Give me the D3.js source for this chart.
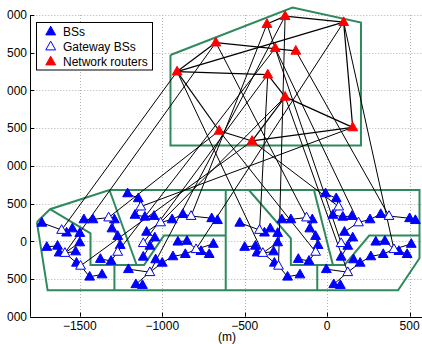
<!DOCTYPE html>
<html>
<head>
<meta charset="utf-8">
<script src="https://cdn.jsdelivr.net/npm/d3@7"></script>
<style>
  body { margin: 0; background: #fff; }
  text { font-family: "Liberation Sans", Arial, Helvetica, sans-serif; }
</style>
</head>
<body>
<div id="chart"></div>
<script>
// all positions in metres
const routers = [
  [-910, 2250], [-675, 2635], [-365, 2880], [-255, 2985], [100, 2905], [-315, 2560],
  [-190, 2525], [-360, 2210], [-255, 1915], [155, 1510], [-655, 1465], [-455, 1330]
];

// west cluster
const bsWest = [
  [-1730, 245], [-1580, 115], [-1545, 170], [-1500, 110], [-1700, -75], [-1635, -60],
  [-1625, -150], [-1525, -135], [-1500, -15], [-1520, -285], [-1440, -470], [-1365, -440],
  [-1475, 290], [-1420, 290], [-1290, 290], [-1305, 170], [-1270, 70], [-1255, -50],
  [-1375, -235], [-1310, -260], [-1210, 635], [-1145, 570], [-1165, 350], [-1105, 325],
  [-1050, 335], [-940, 290], [-875, 360], [-700, 305], [-665, 280], [-1095, 125],
  [-1045, 50], [-1075, -60], [-1115, -205], [-1040, -240], [-1000, -285], [-1205, -370],
  [-1160, -570], [-1120, -580], [-905, -5], [-850, 5], [-765, -130], [-715, -170],
  [-690, -35], [-860, -170], [-935, -200]
];
const gwWest = [
  [-1610, 150], [-1590, -155], [-1495, -325], [-1325, 315], [-1270, -140], [-1130, 460],
  [-1010, 250], [-825, 335], [-1115, -25], [-1075, -410], [-795, -105]
];

// east cluster
const bsEast = [
  [-530, 245], [-380, 115], [-345, 170], [-300, 110], [-500, -75], [-435, -60],
  [-425, -150], [-325, -135], [-300, -15], [-320, -285], [-240, -470], [-165, -440],
  [-275, 290], [-220, 290], [-90, 290], [-105, 170], [-70, 70], [-55, -50],
  [-175, -235], [-110, -260], [-10, 635], [55, 570], [35, 350], [95, 325],
  [150, 335], [260, 290], [325, 360], [500, 305], [535, 280], [105, 125],
  [155, 50], [125, -60], [85, -205], [160, -240], [200, -285], [-5, -370],
  [40, -570], [80, -580], [295, -5], [350, 5], [435, -130], [485, -170],
  [510, -35], [340, -170], [265, -200]
];
const gwEast = [
  [-410, 150], [-390, -155], [-295, -325], [-125, 315], [-70, -140], [70, 460],
  [190, 250], [375, 335], [85, -25], [125, -410], [405, -105]
];

// BS tree inside a cluster (same in both clusters); b = BS, g = gateway
const treeLinks = [
  ["b0", "g0"], ["g0", "b1"], ["b1", "b2"], ["b2", "b3"], ["b3", "b8"], ["b8", "g1"],
  ["b4", "b5"], ["b5", "b6"], ["b6", "g1"], ["g1", "b7"], ["g1", "b9"], ["b9", "g2"],
  ["g2", "b10"], ["b10", "b11"],
  ["b12", "b13"], ["b13", "g3"], ["g3", "b14"], ["b14", "b15"], ["b15", "b16"], ["b16", "b17"],
  ["b17", "g4"], ["b18", "b19"], ["b19", "g4"],
  ["b20", "b21"], ["b21", "g5"], ["g5", "b22"], ["b22", "b23"], ["b23", "b24"], ["b24", "g6"],
  ["g6", "b25"], ["b25", "b26"], ["b26", "g7"], ["g7", "b27"], ["b27", "b28"],
  ["g6", "b29"], ["b29", "b30"], ["b30", "b31"], ["g8", "b31"], ["b31", "b32"],
  ["b33", "b34"], ["b34", "g9"], ["b35", "g9"], ["g9", "b36"], ["b36", "b37"],
  ["b38", "b39"], ["b39", "g10"], ["g10", "b40"], ["b40", "b41"], ["b42", "g10"],
  ["b34", "b44"], ["b44", "b43"], ["b43", "g10"]
];

const routerLinks = [
  [0, 1], [0, 7], [0, 4], [0, 10], [1, 6], [3, 4], [2, 3], [10, 11], [11, 9],
  [8, 9], [4, 9], [7, 8], [8, 11]
];

// router serving each gateway
const uplinkWest = [0, 1, 11, 10, 5, 9, 8, 2, 7, 3, 4];
const uplinkEast = [7, 0, 3, 1, 10, 11, 5, 6, 2, 8, 4];

const routerArea = [[-950, 2470], [-210, 3100], [205, 2900], [205, 1270], [-950, 1270], [-950, 2470]];
const cellBorders = [
  [[-1760, 255], [-1680, 425], [-1320, 680], [560, 680], [560, -225], [430, -650], [-1695, -650], [-1760, 255]],
  [[-1680, 425], [-1435, 105], [-1435, -315], [-1110, -315], [-990, 75], [-615, 75]],
  [[-1320, 680], [-1155, -315]],
  [[-1290, -315], [-1290, -650]],
  [[-615, 680], [-615, -650]],
  [[-475, 680], [-220, 40], [-220, -315], [105, -315], [255, 75], [560, 75]],
  [[-80, 680], [35, -315]],
  [[-60, -315], [-60, -650]]
];

const xTicks = [-1500, -1000, -500, 0, 500];
const yTicks = [-1000, -500, 0, 500, 1000, 1500, 2000, 2500, 3000];
const legendItems = ["BSs", "Gateway BSs", "Network routers"];

const W = 422, H = 344;
const GREEN = "#2e8a5c";
const BLUE = "#0000ff";
const RED = "#ff0000";
const TRI = "M0,-5.3L4.9,3.4L-4.9,3.4Z";

const x = d3.scaleLinear().domain([-1800, 600]).range([30.3, 426.1]);
const y = d3.scaleLinear().domain([-1000, 3000]).range([316.7, 15]);
const line = d3.line().x(d => x(d[0])).y(d => y(d[1]));

const svg = d3.select("#chart").append("svg")
  .attr("width", W).attr("height", H)
  .style("display", "block");

// the figure is cropped on the left, so the leading digits of the y labels are cut
svg.append("defs").append("clipPath").attr("id", "labelClip")
  .append("rect").attr("x", 7).attr("y", 0).attr("width", W).attr("height", H);

// grid
const grid = svg.append("g").attr("stroke", "#b4b4b4").attr("stroke-width", 1).attr("stroke-dasharray", "1,2");
grid.selectAll("line.gx").data(xTicks).enter().append("line")
  .attr("x1", d => Math.round(x(d)) + 0.5).attr("x2", d => Math.round(x(d)) + 0.5)
  .attr("y1", y(3000)).attr("y2", y(-1000));
grid.selectAll("line.gy").data(yTicks).enter().append("line")
  .attr("y1", d => Math.round(y(d)) + 0.5).attr("y2", d => Math.round(y(d)) + 0.5)
  .attr("x1", x(-1800)).attr("x2", W);

// axes
const ax = svg.append("g").attr("stroke", "#000").attr("stroke-width", 1);
ax.append("line").attr("x1", Math.round(x(-1800)) + 0.5).attr("x2", Math.round(x(-1800)) + 0.5)
  .attr("y1", y(3000)).attr("y2", y(-1000));
ax.append("line").attr("x1", x(-1800)).attr("x2", W)
  .attr("y1", Math.round(y(-1000)) + 0.5).attr("y2", Math.round(y(-1000)) + 0.5);
ax.selectAll("line.tx").data(xTicks).enter().append("line")
  .attr("x1", d => Math.round(x(d)) + 0.5).attr("x2", d => Math.round(x(d)) + 0.5)
  .attr("y1", y(-1000)).attr("y2", y(-1000) - 4);
ax.selectAll("line.ty").data(yTicks).enter().append("line")
  .attr("y1", d => Math.round(y(d)) + 0.5).attr("y2", d => Math.round(y(d)) + 0.5)
  .attr("x1", x(-1800)).attr("x2", x(-1800) + 4);

const fmt = d => (d < 0 ? "\u2212" : "") + Math.abs(d);
svg.append("g").selectAll("text").data(xTicks).enter().append("text")
  .attr("x", d => x(d)).attr("y", 330)
  .attr("text-anchor", "middle").attr("font-size", 12)
  .text(fmt);
svg.append("g").attr("clip-path", "url(#labelClip)")
  .selectAll("text").data(yTicks).enter().append("text")
  .attr("x", 27).attr("y", d => y(d) + 4.3)
  .attr("text-anchor", "end").attr("font-size", 12)
  .text(fmt);
svg.append("text").attr("x", 227).attr("y", 341)
  .attr("text-anchor", "middle").attr("font-size", 12).text("(m)");

// areas
const areas = svg.append("g").attr("fill", "none").attr("stroke", GREEN).attr("stroke-width", 2)
  .attr("stroke-linejoin", "miter");
areas.append("path").attr("d", line(routerArea));
areas.selectAll("path.cell").data(cellBorders).enter().append("path").attr("d", line);

// links
const links = svg.append("g").attr("stroke", "#000").attr("stroke-width", 1);
function clusterLinks(bs, gw, uplink) {
  const node = k => (k[0] === "b" ? bs : gw)[+k.slice(1)];
  treeLinks.forEach(([a, b]) => {
    const p = node(a), q = node(b);
    links.append("line").attr("x1", x(p[0])).attr("y1", y(p[1])).attr("x2", x(q[0])).attr("y2", y(q[1]));
  });
  gw.forEach((g, i) => {
    const r = routers[uplink[i]];
    links.append("line").attr("x1", x(g[0])).attr("y1", y(g[1])).attr("x2", x(r[0])).attr("y2", y(r[1]));
  });
}
clusterLinks(bsWest, gwWest, uplinkWest);
clusterLinks(bsEast, gwEast, uplinkEast);
routerLinks.forEach(([a, b]) => {
  links.append("line").attr("stroke-width", 1.2)
    .attr("x1", x(routers[a][0])).attr("y1", y(routers[a][1]))
    .attr("x2", x(routers[b][0])).attr("y2", y(routers[b][1]));
});

// markers
function markers(data, fill, stroke) {
  svg.append("g").selectAll("path").data(data).enter().append("path")
    .attr("d", TRI)
    .attr("transform", d => `translate(${x(d[0])},${y(d[1])})`)
    .attr("fill", fill).attr("stroke", stroke).attr("stroke-width", 1);
}
markers(bsWest.concat(bsEast), BLUE, BLUE);
markers(gwWest.concat(gwEast), "#fff", BLUE);
markers(routers, RED, RED);

// legend
const lg = svg.append("g");
lg.append("rect").attr("x", 36.5).attr("y", 22.5).attr("width", 116).attr("height", 47.5)
  .attr("fill", "#fff").attr("stroke", "#000").attr("stroke-width", 1);
const styles = [[BLUE, BLUE], ["#fff", BLUE], [RED, RED]];
legendItems.forEach((t, i) => {
  const yy = 31.5 + i * 15;
  lg.append("path").attr("d", TRI).attr("transform", `translate(50.7,${yy})`)
    .attr("fill", styles[i][0]).attr("stroke", styles[i][1]);
  lg.append("text").attr("x", 63).attr("y", yy + 4.3).attr("font-size", 12).text(t);
});
</script>
</body>
</html>
